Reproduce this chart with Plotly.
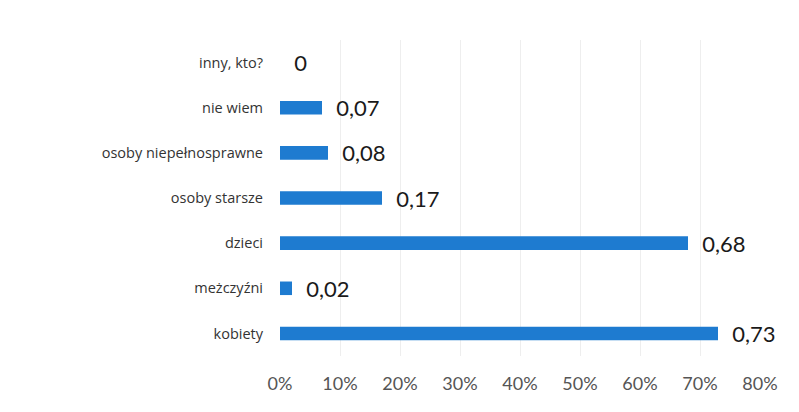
import plotly.graph_objects as go

categories = ["kobiety", "meżczyźni", "dzieci", "osoby starsze",
              "osoby niepełnosprawne", "nie wiem", "inny, kto?"]
values = [0.73, 0.02, 0.68, 0.17, 0.08, 0.07, 0.0]
tick_vals = [0, 0.1, 0.2, 0.3, 0.4, 0.5, 0.6, 0.7, 0.8]
tick_text = ["0%", "10%", "20%", "30%", "40%", "50%", "60%", "70%", "80%"]

labels = ["\u00a0\u00a0" + ("0" if v == 0 else f"{v:.2f}".replace(".", ",")) for v in values]

fig = go.Figure(go.Bar(
    y=categories, x=values, orientation="h",
    marker=dict(color="#1e7bd0", line=dict(width=0)),
    text=labels, textposition="outside", cliponaxis=False,
    constraintext="none",
    textfont=dict(family="Lato, sans-serif", size=22, color="#1a1a1a"),
))

fig.update_layout(
    width=799, height=412,
    margin=dict(l=272, r=47, t=32, b=64, autoexpand=False),
    paper_bgcolor="white", plot_bgcolor="white",
    bargap=0.7, showlegend=False,
    font=dict(family="Lato, sans-serif"),
    xaxis=dict(range=[0, 0.8], tickvals=tick_vals, ticktext=tick_text,
               showgrid=True, gridcolor="#eeeeee", zeroline=False,
               tickfont=dict(size=18, color="#555555"), ticklen=0,
               ticks="", showline=False, automargin=False,
               ticklabelstandoff=15),
    yaxis=dict(categoryorder="array", categoryarray=categories,
               tickfont=dict(family="Open Sans, sans-serif", size=14.5, color="#333333"),
               ticks="", ticklabelstandoff=16, showgrid=False, zeroline=False,
               automargin=False),
)

fig.write_html("out.html")
